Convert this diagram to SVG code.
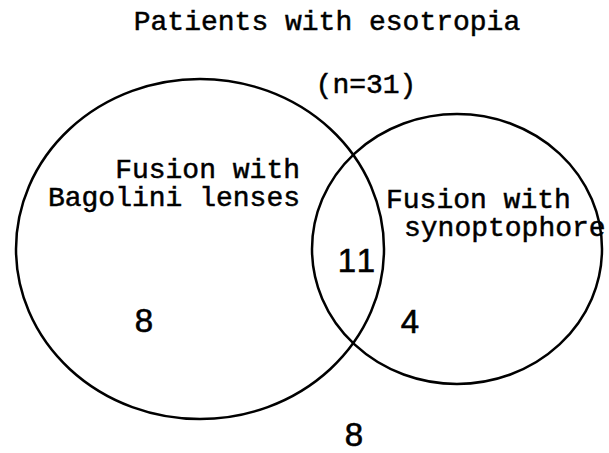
<svg xmlns="http://www.w3.org/2000/svg" width="609" height="453" viewBox="0 0 609 453">
<style>
.t{font-family:"Liberation Mono","Courier New",monospace;font-size:28px;fill:#000;stroke:#000;stroke-width:0.5}
.n{font-family:"Liberation Sans",Arial,sans-serif;font-size:33px;fill:#000;stroke:#000;stroke-width:0.6}
.c{fill:none;stroke:#000;stroke-width:2.5}
</style>
<rect width="609" height="453" fill="#fff"/>
<text class="t" x="327" y="30" text-anchor="middle">Patients with esotropia</text>
<text class="t" x="366" y="93" text-anchor="middle">(n=31)</text>
<g id="bagolini">
<ellipse class="c" cx="200" cy="249" rx="184" ry="170"/>
<text class="t" x="300" y="178" text-anchor="end">Fusion with</text>
<text class="t" x="300" y="206" text-anchor="end">Bagolini lenses</text>
<text class="n" x="144" y="332" text-anchor="middle">8</text>
</g>
<g id="synoptophore">
<ellipse class="c" cx="457" cy="249" rx="145" ry="135"/>
<text class="t" x="386" y="208">Fusion with</text>
<text class="t" x="404" y="236">synoptophore</text>
<text class="n" x="410" y="333" text-anchor="middle">4</text>
</g>
<g id="both">
<text class="n" x="358" y="272" text-anchor="middle" letter-spacing="3">11</text>
</g>
<g id="neither">
<text class="n" x="354" y="446" text-anchor="middle">8</text>
</g>
<g id="connectors"></g>
</svg>
